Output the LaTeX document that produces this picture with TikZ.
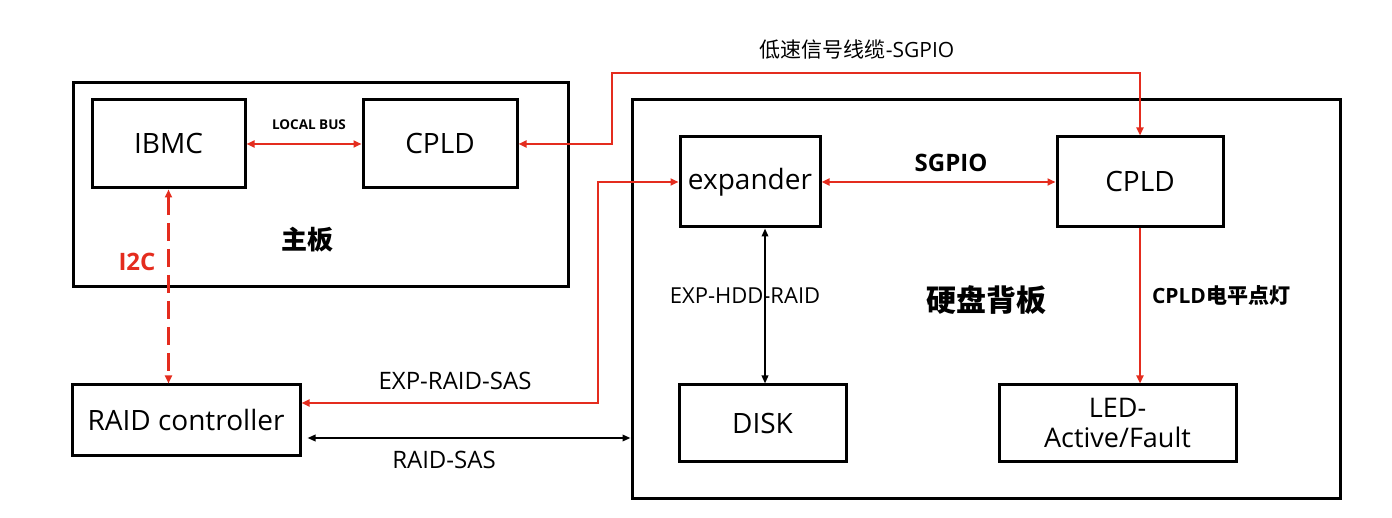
\documentclass[tikz,border=0pt]{standalone}
\usepackage{fontspec}
\setmainfont{Open Sans}
\newfontfamily\cjk{Noto Sans CJK SC}
\usetikzlibrary{arrows.meta}
\definecolor{lred}{RGB}{228,44,30}
\tikzset{
  box/.style={draw=black, line width=3pt, inner sep=0pt, align=center, font=\fontsize{28}{32}\selectfont},
  redline/.style={draw=lred, line width=2.2pt, {Triangle[length=8pt,width=7pt]}-{Triangle[length=8pt,width=7pt]}},
  redone/.style={draw=lred, line width=2.2pt, -{Triangle[length=8pt,width=7pt]}},
  blackline/.style={draw=black, line width=1.8pt, {Triangle[length=8pt,width=6.5pt]}-{Triangle[length=8pt,width=6.5pt]}},
  lbl/.style={inner sep=0pt, font=\fontsize{24}{28}\selectfont},
}
\begin{document}
\begin{tikzpicture}[x=1pt,y=-1pt]
\useasboundingbox (0,0) rectangle (1392,518);
% containers
\node[box, minimum width=495pt, minimum height=204pt] (mb) at (320.5,185) {};
\node[box, minimum width=708pt, minimum height=398pt] (bp) at (986,299) {};
% blocks
\node[box, minimum width=153pt, minimum height=88pt] (ibmc) at (168.5,144) {IBMC};
\node[box, minimum width=154pt, minimum height=88pt] (cpldA) at (440,144) {CPLD};
\node[box, minimum width=228pt, minimum height=70pt] (raid) at (186,420) {RAID controller};
\node[box, minimum width=140pt, minimum height=90pt] (exp) at (750,182) {expander};
\node[box, minimum width=166pt, minimum height=90pt] (cpldB) at (1140,182) {CPLD};
\node[box, minimum width=167pt, minimum height=76pt] (disk) at (762.5,423) {DISK};
\node[box, minimum width=237pt, minimum height=76pt, font=\fontsize{27}{30}\selectfont] (led) at (1117.5,423) {LED-\\Active/Fault};
% helper coordinates
\coordinate (t1) at (612,73);
\coordinate (s1) at (598,403);
\coordinate (hx) at (765,300);
\coordinate (r2) at (450,438);
% connectors
\draw[redline, line width=2.8pt] (ibmc) -- (cpldA);
\draw[redline] (cpldA.east) -| (t1) -| (cpldB.north);
\draw[redline] (s1 -| raid.east) -- (s1) |- (exp.west);
\draw[redline] (exp) -- (cpldB);
\draw[redone] (cpldB.south) -- (cpldB.south |- led.north);
\draw[blackline] (hx |- exp.south) -- (hx |- disk.north);
\draw[redline, dash pattern=on 18pt off 8pt] (ibmc.south) -- (ibmc.south |- raid.north);
\draw[blackline, shorten <=6pt] (r2 -| raid.east) -- (r2 -| bp.west);
% labels
\node[lbl, font=\fontsize{13.5}{16}\selectfont\bfseries] (llb) at (309,125) {LOCAL BUS};
\node[lbl, font=\fontsize{21}{24}\selectfont] (lsg) at (857,50) {{\cjk 低速信号线缆}-SGPIO};
\node[lbl, font=\fontsize{24}{28}\selectfont\bfseries] (lsgpio) at (951,163) {SGPIO};
\node[lbl, font=\fontsize{26}{30}\selectfont\bfseries\cjk] (lmb) at (307,240) {主板};
\node[lbl, font=\fontsize{24}{28}\selectfont\bfseries, text=lred] (li2c) at (137,262) {I2C};
\node[lbl] (lers) at (455,381) {EXP-RAID-SAS};
\node[lbl] (lrs) at (444,460) {RAID-SAS};
\node[lbl, font=\fontsize{22}{26}\selectfont] (lehr) at (745,296) {EXP-HDD-RAID};
\node[lbl, font=\fontsize{30}{34}\selectfont\bfseries\cjk] (lbp) at (986,300) {硬盘背板};
\node[lbl, font=\fontsize{21}{24}\selectfont\bfseries] (lcp) at (1221,296) {CPLD{\cjk 电平点灯}};
\end{tikzpicture}
\end{document}
